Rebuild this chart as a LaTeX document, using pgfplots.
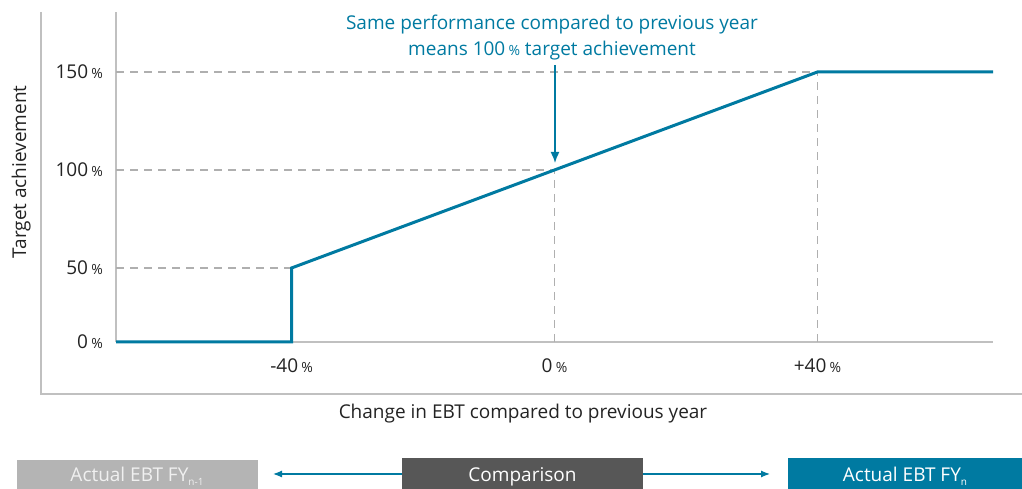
\documentclass[border=0pt]{standalone}
\usepackage{fontspec}
\setmainfont{Open Sans}
\usepackage{pgfplots}
\pgfplotsset{compat=1.18}
\usetikzlibrary{arrows.meta}

\definecolor{tealc}{RGB}{0,122,161}
\definecolor{gridc}{RGB}{175,175,175}
\definecolor{axisc}{RGB}{192,192,192}
\definecolor{labc}{RGB}{35,35,35}
\definecolor{boxa}{RGB}{180,180,180}
\definecolor{boxb}{RGB}{87,87,87}
\definecolor{boxtxt}{RGB}{240,240,240}

\newcommand\fs{\fontsize{19}{23}\selectfont}
\newcommand\pct{{\fontsize{14}{14}\selectfont\%}}
\newcommand\sub[1]{\raisebox{-4pt}{\fontsize{10}{10}\selectfont #1}}

\begin{document}
\begin{tikzpicture}[x=1pt,y=1pt,font=\fs]
\path[use as bounding box] (0,0) rectangle (1022,489);

% outer frame
\draw[axisc, line width=1.3pt] (41,477) -- (41,95) -- (1022,95);

\begin{axis}[
  at={(116pt,147pt)}, anchor=south west,
  scale only axis, width=877pt, height=330pt,
  xmin=-66.7, xmax=66.7, ymin=0, ymax=180.6,
  % 0..50 band is drawn compressed, as in the original
  y coord trafo/.code={\pgfmathparse{ifthenelse(#1<50,50-(50-#1)*0.7551,#1)}},
  axis lines=left,
  axis line style={axisc, line width=1.3pt, -},
  major tick length=0pt,
  xtick={-40,0,40},
  xticklabels={-40\,\pct, 0\,\pct, +40\,\pct},
  ytick={0,50,100,150},
  yticklabels={0\,\pct, 50\,\pct, 100\,\pct, 150\,\pct},
  ticklabel style={font=\fs, text=labc},
  yticklabel style={anchor=east, inner sep=0pt, xshift=-13pt},
  xticklabel style={anchor=north, inner sep=0pt, yshift=-17pt},
  clip=false,
]
% helper lines
\addplot[gridc, line width=1.2pt, dash pattern=on 8pt off 6pt] coordinates {(-66.7,50) (-40,50)};
\addplot[gridc, line width=1.2pt, dash pattern=on 8pt off 6pt] coordinates {(-66.7,100) (0,100)};
\addplot[gridc, line width=1.2pt, dash pattern=on 8pt off 6pt] coordinates {(-66.7,150) (40,150)};
\addplot[gridc, line width=1.2pt, dash pattern=on 8pt off 6pt] coordinates {(0,0) (0,100)};
\addplot[gridc, line width=1.2pt, dash pattern=on 8pt off 6pt] coordinates {(40,0) (40,150)};
% target achievement curve
\addplot[tealc, line width=3pt] coordinates {(-66.7,0) (-40,0) (-40,50) (40,150) (66.7,150)};
\end{axis}

% annotation
\draw[tealc, line width=1.5pt, -{Latex[length=11pt,width=9pt]}] (555,424) -- (555,326);
\node[tealc, align=center, font=\fontsize{19}{26}\selectfont, inner sep=0pt] at (552,451)
  {Same performance compared to previous year\\means 100\,\pct{} target achievement};

% axis titles
\node[anchor=base, text=labc] at (523,70) {Change in EBT compared to previous year};
\node[anchor=base, rotate=90, text=labc] at (26,317) {Target achievement};

% bottom boxes
\fill[boxa] (16.7,0) rectangle (257.7,29);
\fill[boxb] (401.7,0) rectangle (643.3,31);
\fill[tealc] (787.7,0) rectangle (1022,31);
\node[anchor=base, text=boxtxt] at (137,7) {Actual EBT FY\sub{n-1}};
\node[anchor=base, white] at (522.5,7) {Comparison};
\node[anchor=base, white] at (905,7) {Actual EBT FY\sub{n}};
\draw[tealc, line width=1.2pt, -{Latex[length=9pt,width=7pt]}] (401.7,15) -- (273,15);
\draw[tealc, line width=1.2pt, -{Latex[length=9pt,width=7pt]}] (643.3,15) -- (770,15);
\end{tikzpicture}
\end{document}
